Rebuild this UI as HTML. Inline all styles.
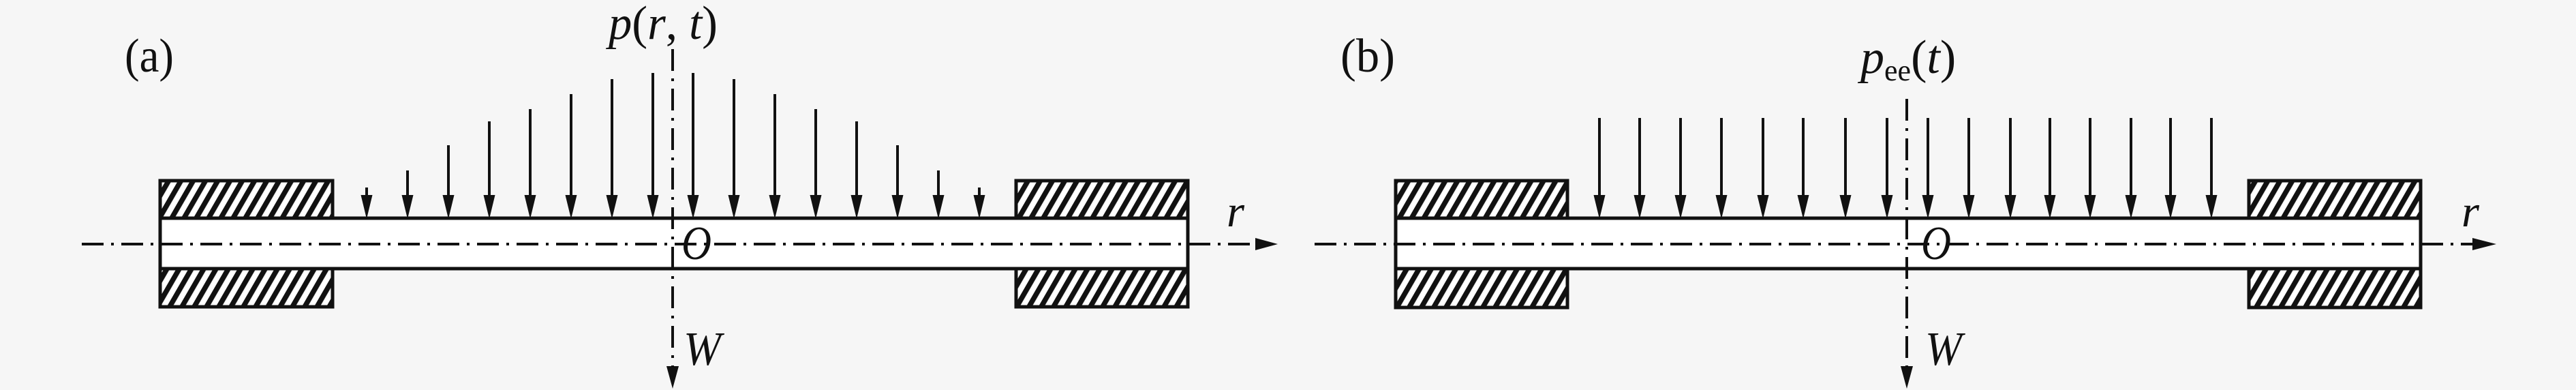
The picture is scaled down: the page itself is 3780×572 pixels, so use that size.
<!DOCTYPE html>
<html>
<head>
<meta charset="utf-8">
<style>
  html, body { margin: 0; padding: 0; background: #f6f6f6; }
  body { width: 3780px; height: 572px; overflow: hidden; }
  svg { display: block; }
  text { font-family: "Liberation Serif", "DejaVu Serif", serif; fill: #111; }
  .it { font-style: italic; }
</style>
</head>
<body>
<svg width="3780" height="572" viewBox="0 0 3780 572" xmlns="http://www.w3.org/2000/svg" font-family="Liberation Serif, DejaVu Serif, serif">
  <defs>
    <pattern id="hatch" patternUnits="userSpaceOnUse" width="15.6" height="20" patternTransform="rotate(30)">
      <rect x="0" y="0" width="15.6" height="20" fill="#ffffff"/>
      <rect x="0" y="0" width="7.5" height="20" fill="#111"/>
    </pattern>
  </defs>
  <rect x="0" y="0" width="3780" height="572" fill="#f6f6f6"/>

  <!-- ================= PANEL (a) ================= -->
  <rect x="235" y="320" width="1508" height="74" fill="#ffffff"/>
  <rect x="235" y="265" width="253" height="55" fill="url(#hatch)" stroke="#111" stroke-width="5"/>
  <rect x="235" y="394" width="253" height="56" fill="url(#hatch)" stroke="#111" stroke-width="5"/>
  <rect x="1491" y="265" width="252" height="55" fill="url(#hatch)" stroke="#111" stroke-width="5"/>
  <rect x="1491" y="394" width="252" height="56" fill="url(#hatch)" stroke="#111" stroke-width="5"/>
  <line x1="235" y1="320" x2="1743" y2="320" stroke="#111" stroke-width="5"/>
  <line x1="235" y1="394" x2="1743" y2="394" stroke="#111" stroke-width="5"/>
  <line x1="235" y1="263" x2="235" y2="452" stroke="#111" stroke-width="5"/>
  <line x1="1743" y1="263" x2="1743" y2="452" stroke="#111" stroke-width="5"/>

  <line x1="120" y1="358" x2="1845" y2="358" stroke="#111" stroke-width="4" stroke-dasharray="32 11 4 11"/>
  <polygon points="1842,349 1842,367 1875,358" fill="#111"/>
  <line x1="987" y1="72" x2="987" y2="540" stroke="#111" stroke-width="4" stroke-dasharray="32 11 4 11"/>
  <polygon points="978,537 996,537 987,570" fill="#111"/>

  <g stroke="#111" stroke-width="4">
    <line x1="538" y1="275" x2="538" y2="292"/>
    <line x1="598" y1="250" x2="598" y2="292"/>
    <line x1="658" y1="213" x2="658" y2="292"/>
    <line x1="718" y1="178" x2="718" y2="292"/>
    <line x1="778" y1="160" x2="778" y2="292"/>
    <line x1="838" y1="138" x2="838" y2="292"/>
    <line x1="898" y1="116" x2="898" y2="292"/>
    <line x1="958" y1="107" x2="958" y2="292"/>
    <line x1="1017" y1="107" x2="1017" y2="292"/>
    <line x1="1077" y1="116" x2="1077" y2="292"/>
    <line x1="1137" y1="138" x2="1137" y2="292"/>
    <line x1="1197" y1="160" x2="1197" y2="292"/>
    <line x1="1257" y1="178" x2="1257" y2="292"/>
    <line x1="1317" y1="213" x2="1317" y2="292"/>
    <line x1="1377" y1="250" x2="1377" y2="292"/>
    <line x1="1437" y1="275" x2="1437" y2="292"/>
  </g>
  <g fill="#111">
    <polygon points="529.5,286 546.5,286 538,321"/>
    <polygon points="589.5,286 606.5,286 598,321"/>
    <polygon points="649.5,286 666.5,286 658,321"/>
    <polygon points="709.5,286 726.5,286 718,321"/>
    <polygon points="769.5,286 786.5,286 778,321"/>
    <polygon points="829.5,286 846.5,286 838,321"/>
    <polygon points="889.5,286 906.5,286 898,321"/>
    <polygon points="949.5,286 966.5,286 958,321"/>
    <polygon points="1008.5,286 1025.5,286 1017,321"/>
    <polygon points="1068.5,286 1085.5,286 1077,321"/>
    <polygon points="1128.5,286 1145.5,286 1137,321"/>
    <polygon points="1188.5,286 1205.5,286 1197,321"/>
    <polygon points="1248.5,286 1265.5,286 1257,321"/>
    <polygon points="1308.5,286 1325.5,286 1317,321"/>
    <polygon points="1368.5,286 1385.5,286 1377,321"/>
    <polygon points="1428.5,286 1445.5,286 1437,321"/>
  </g>

  <text x="183" y="105" font-family="Liberation Serif, DejaVu Serif, serif" font-size="70" textLength="72" lengthAdjust="spacingAndGlyphs">(a)</text>
  <text x="893" y="57" font-family="Liberation Serif, DejaVu Serif, serif" font-size="70" textLength="160" lengthAdjust="spacingAndGlyphs"><tspan font-style="italic">p</tspan>(<tspan font-style="italic">r</tspan>, <tspan font-style="italic">t</tspan>)</text>
  <text x="1000" y="380" font-family="Liberation Serif, DejaVu Serif, serif" font-size="70" font-style="italic" textLength="44" lengthAdjust="spacingAndGlyphs">O</text>
  <text x="1003" y="535" font-family="Liberation Serif, DejaVu Serif, serif" font-size="70" font-style="italic" textLength="55" lengthAdjust="spacingAndGlyphs">W</text>
  <text x="1800" y="332" font-family="Liberation Serif, DejaVu Serif, serif" font-size="66" font-style="italic" textLength="26" lengthAdjust="spacingAndGlyphs">r</text>

  <!-- ================= PANEL (b) ================= -->
  <rect x="2048" y="320" width="1504" height="74" fill="#ffffff"/>
  <rect x="2048" y="265" width="252" height="55" fill="url(#hatch)" stroke="#111" stroke-width="5"/>
  <rect x="2048" y="394" width="252" height="57" fill="url(#hatch)" stroke="#111" stroke-width="5"/>
  <rect x="3300" y="265" width="252" height="55" fill="url(#hatch)" stroke="#111" stroke-width="5"/>
  <rect x="3300" y="394" width="252" height="57" fill="url(#hatch)" stroke="#111" stroke-width="5"/>
  <line x1="2048" y1="320" x2="3552" y2="320" stroke="#111" stroke-width="5"/>
  <line x1="2048" y1="394" x2="3552" y2="394" stroke="#111" stroke-width="5"/>
  <line x1="2048" y1="263" x2="2048" y2="453" stroke="#111" stroke-width="5"/>
  <line x1="3552" y1="263" x2="3552" y2="453" stroke="#111" stroke-width="5"/>

  <line x1="1929" y1="358" x2="3630" y2="358" stroke="#111" stroke-width="4" stroke-dasharray="32 11 4 11"/>
  <polygon points="3628,349 3628,367 3663,358" fill="#111"/>
  <line x1="2798" y1="145" x2="2798" y2="540" stroke="#111" stroke-width="4" stroke-dasharray="32 11 4 11"/>
  <polygon points="2789,537 2807,537 2798,570" fill="#111"/>

  <g stroke="#111" stroke-width="4">
    <line x1="2347" y1="173" x2="2347" y2="292"/>
    <line x1="2406" y1="173" x2="2406" y2="292"/>
    <line x1="2466" y1="173" x2="2466" y2="292"/>
    <line x1="2526" y1="173" x2="2526" y2="292"/>
    <line x1="2587" y1="173" x2="2587" y2="292"/>
    <line x1="2646" y1="173" x2="2646" y2="292"/>
    <line x1="2708" y1="173" x2="2708" y2="292"/>
    <line x1="2769" y1="173" x2="2769" y2="292"/>
    <line x1="2829" y1="173" x2="2829" y2="292"/>
    <line x1="2889" y1="173" x2="2889" y2="292"/>
    <line x1="2950" y1="173" x2="2950" y2="292"/>
    <line x1="3008" y1="173" x2="3008" y2="292"/>
    <line x1="3067" y1="173" x2="3067" y2="292"/>
    <line x1="3127" y1="173" x2="3127" y2="292"/>
    <line x1="3185" y1="173" x2="3185" y2="292"/>
    <line x1="3245" y1="173" x2="3245" y2="292"/>
  </g>
  <g fill="#111">
    <polygon points="2338.5,286 2355.5,286 2347,321"/>
    <polygon points="2397.5,286 2414.5,286 2406,321"/>
    <polygon points="2457.5,286 2474.5,286 2466,321"/>
    <polygon points="2517.5,286 2534.5,286 2526,321"/>
    <polygon points="2578.5,286 2595.5,286 2587,321"/>
    <polygon points="2637.5,286 2654.5,286 2646,321"/>
    <polygon points="2699.5,286 2716.5,286 2708,321"/>
    <polygon points="2760.5,286 2777.5,286 2769,321"/>
    <polygon points="2820.5,286 2837.5,286 2829,321"/>
    <polygon points="2880.5,286 2897.5,286 2889,321"/>
    <polygon points="2941.5,286 2958.5,286 2950,321"/>
    <polygon points="2999.5,286 3016.5,286 3008,321"/>
    <polygon points="3058.5,286 3075.5,286 3067,321"/>
    <polygon points="3118.5,286 3135.5,286 3127,321"/>
    <polygon points="3176.5,286 3193.5,286 3185,321"/>
    <polygon points="3236.5,286 3253.5,286 3245,321"/>
  </g>

  <text x="1967" y="105" font-family="Liberation Serif, DejaVu Serif, serif" font-size="70" textLength="80" lengthAdjust="spacingAndGlyphs">(b)</text>
  <text x="2730" y="107" font-family="Liberation Serif, DejaVu Serif, serif" font-size="70"><tspan font-style="italic">p</tspan><tspan font-size="44" dy="11">ee</tspan><tspan dy="-11">(</tspan><tspan font-style="italic">t</tspan>)</text>
  <text x="2819" y="380" font-family="Liberation Serif, DejaVu Serif, serif" font-size="70" font-style="italic" textLength="44" lengthAdjust="spacingAndGlyphs">O</text>
  <text x="2825" y="535" font-family="Liberation Serif, DejaVu Serif, serif" font-size="70" font-style="italic" textLength="54" lengthAdjust="spacingAndGlyphs">W</text>
  <text x="3612" y="332" font-family="Liberation Serif, DejaVu Serif, serif" font-size="66" font-style="italic" textLength="26" lengthAdjust="spacingAndGlyphs">r</text>
</svg>
</body>
</html>
